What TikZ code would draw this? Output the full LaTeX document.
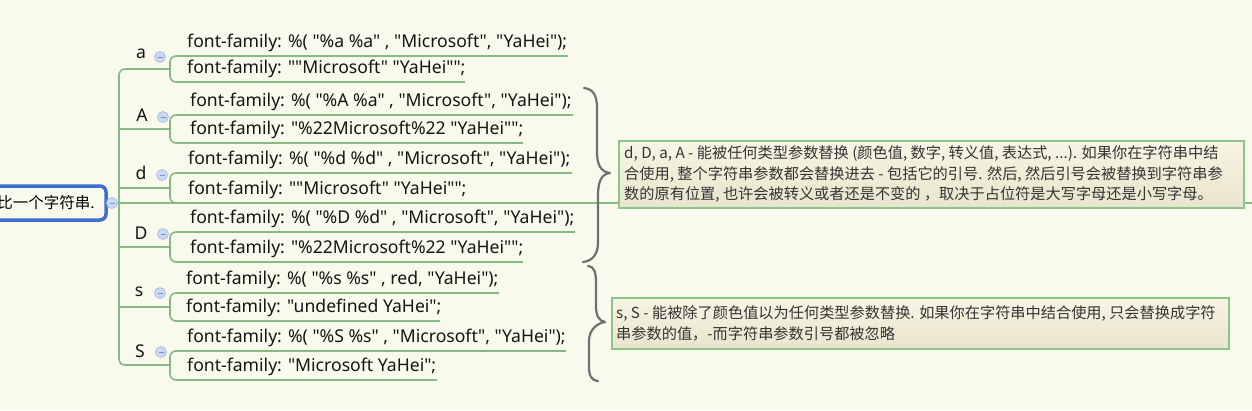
\documentclass[tikz,border=0pt]{standalone}
\usepackage{fontspec}
\setmainfont{Noto Sans}[Ligatures=TeXOff]
\newfontfamily\cjk{Noto Sans CJK SC}[Ligatures=TeXOff]
\definecolor{bgcream}{HTML}{FAFAEC}
\definecolor{linegreen}{HTML}{84BB84}
\definecolor{boxgreen}{HTML}{8CC48C}
\definecolor{boxtop}{HTML}{F7F5E4}
\definecolor{boxbot}{HTML}{E8E4CC}
\definecolor{bracegray}{HTML}{707070}
\definecolor{rootblue}{HTML}{3D6FCC}
\definecolor{minusfill}{HTML}{CCD9F2}
\definecolor{minusdraw}{HTML}{A9BFE8}
\definecolor{minusline}{HTML}{7090D0}
\definecolor{txt}{HTML}{151515}
\definecolor{boxtxt}{HTML}{333333}
\tikzset{
  conn/.style={draw=linegreen, line width=1.6, rounded corners=6},
  leaftext/.style={anchor=base west, inner sep=0, text=txt, font=\fontsize{17.6}{20}\selectfont},
  lab/.style={inner sep=0, text=txt, font=\fontsize{17.6}{20}\selectfont},
  mcircle/.style={circle, fill=minusfill, draw=minusdraw, line width=0.8, minimum size=11, inner sep=0,
    path picture={\draw[minusline, line width=1] ([xshift=-2.5]path picture bounding box.center) -- ([xshift=2.5]path picture bounding box.center);}},
  bracestyle/.style={draw=bracegray, line width=2.2, line cap=round, line join=round},
  notebox/.style={draw=boxgreen, line width=1.5, top color=boxtop, bottom color=boxbot, inner sep=0},
  boxtext/.style={anchor=west, inner sep=0, align=left, text=boxtxt, font=\cjk\fontsize{15.2}{20.5}\selectfont},
  rootbox/.style={draw=rootblue, line width=3.5, rounded corners=6, fill=bgcream, minimum width=120, minimum height=34, inner sep=0, font=\cjk\fontsize{15.5}{18}\selectfont, text=black}
}
\begin{document}
\begin{tikzpicture}[x=1pt, y=-1pt]
\useasboundingbox (0,0) rectangle (1252,410);
\clip (0,0) rectangle (1252,410);
\fill[bgcream] (0,0) rectangle (1252,410);

% coordinates
\coordinate (tt) at (119,69);
\coordinate (tb) at (119,365);
\coordinate (aJ) at (170,69);
\coordinate (AJ) at (170,129);
\coordinate (dJ) at (170,188);
\coordinate (DJ) at (170,247);
\coordinate (sJ) at (170,307);
\coordinate (SJ) at (170,365);
\coordinate (a1u) at (568,56);  \coordinate (a2u) at (465,82);
\coordinate (A1u) at (573,115); \coordinate (A2u) at (523,143);
\coordinate (d1u) at (572,173); \coordinate (d2u) at (467,203);
\coordinate (D1u) at (575,232); \coordinate (D2u) at (523,262);
\coordinate (s1u) at (499,293); \coordinate (s2u) at (440,321);
\coordinate (S1u) at (566,351); \coordinate (S2u) at (437,380);
\coordinate (rootR) at (1260,203);

% root
\node[rootbox] (root) at (46,203) {比一个字符串.};
\draw[conn] (root.east) -- (rootR);

% trunk and branches
\draw[conn] (aJ) -- (tt) -- (tb) -- (SJ);
\draw[conn] (tt |- AJ) -- (AJ);
\draw[conn] (tt |- dJ) -- (dJ);
\draw[conn] (tt |- DJ) -- (DJ);
\draw[conn] (tt |- sJ) -- (sJ);

% leaf brackets
\draw[conn] (a1u) -| (aJ) |- (a2u);
\draw[conn] (A1u) -| (AJ) |- (A2u);
\draw[conn] (d1u) -| (dJ) |- (d2u);
\draw[conn] (D1u) -| (DJ) |- (D2u);
\draw[conn] (s1u) -| (sJ) |- (s2u);
\draw[conn] (S1u) -| (SJ) |- (S2u);

% minus circles
\node[mcircle] (mroot) at (112,203) {};
\node[mcircle] (ma) at (160,57) {};
\node[mcircle] (mA) at (163,117) {};
\node[mcircle] (md) at (162,175) {};
\node[mcircle] (mD) at (163,234) {};
\node[mcircle] (ms) at (160,293) {};
\node[mcircle] (mS) at (161,352) {};

% labels
\node[lab] (la) at (141,54) {a};
\node[lab] (lA) at (142,115) {A};
\node[lab] (ld) at (141,173) {d};
\node[lab] (lD) at (141,233) {D};
\node[lab] (ls) at (139,292) {s};
\node[lab] (lS) at (140,351) {S};

% leaves
\node[leaftext] (a1) at (187,47) {font-family: \%( "\%a \%a" , "Microsoft", "YaHei");};
\node[leaftext] (a2) at (187,73) {font-family: ""Microsoft" "YaHei"";};
\node[leaftext] (A1) at (190,106) {font-family: \%( "\%A \%a" , "Microsoft", "YaHei");};
\node[leaftext] (A2) at (190,134) {font-family: "\%22Microsoft\%22 "YaHei"";};
\node[leaftext] (d1) at (188,164) {font-family: \%( "\%d \%d" , "Microsoft", "YaHei");};
\node[leaftext] (d2) at (188,194) {font-family: ""Microsoft" "YaHei"";};
\node[leaftext] (D1) at (190,223) {font-family: \%( "\%D \%d" , "Microsoft", "YaHei");};
\node[leaftext] (D2) at (190,253) {font-family: "\%22Microsoft\%22 "YaHei"";};
\node[leaftext] (s1) at (186,284) {font-family: \%( "\%s \%s" , red, "YaHei");};
\node[leaftext] (s2) at (186,312) {font-family: "undefined YaHei";};
\node[leaftext] (S1) at (187,342) {font-family: \%( "\%S \%s" , "Microsoft", "YaHei");};
\node[leaftext] (S2) at (187,371) {font-family: "Microsoft YaHei";};

% braces
\draw[bracestyle] (584,88) .. controls (593,89) and (597,95) .. (597,108)
  -- (597,152) .. controls (597,165) and (601,172) .. (610,173)
  .. controls (601,174) and (598,182) .. (598,196)
  -- (598,242) .. controls (598,255) and (592,261) .. (583,262);
\draw[bracestyle] (588,266) .. controls (595,267) and (596,273) .. (596,284)
  -- (596,306) .. controls (596,316) and (599,321) .. (605,322)
  .. controls (598,323) and (589,329) .. (589,341)
  -- (589,366) .. controls (589,376) and (591,380) .. (598,381);

% note boxes
\node[notebox, minimum width=625, minimum height=67, anchor=north west] (n1) at (618,140) {};
\node[boxtext] (t1) at ([xshift=6]n1.west) {d, D, a, A - 能被任何类型参数替换 (颜色值, 数字, 转义值, 表达式, ...). 如果你在字符串中结\\合使用, 整个字符串参数都会替换进去 - 包括它的引号. 然后, 然后引号会被替换到字符串参\\数的原有位置, 也许会被转义或者还是不变的 ，取决于占位符是大写字母还是小写字母。};
\node[notebox, minimum width=617, minimum height=51, anchor=north west] (n2) at (611,297) {};
\node[boxtext] (t2) at ([xshift=5]n2.west) {s, S - 能被除了颜色值以为任何类型参数替换. 如果你在字符串中结合使用, 只会替换成字符\\串参数的值，-而字符串参数引号都被忽略};
\end{tikzpicture}
\end{document}
